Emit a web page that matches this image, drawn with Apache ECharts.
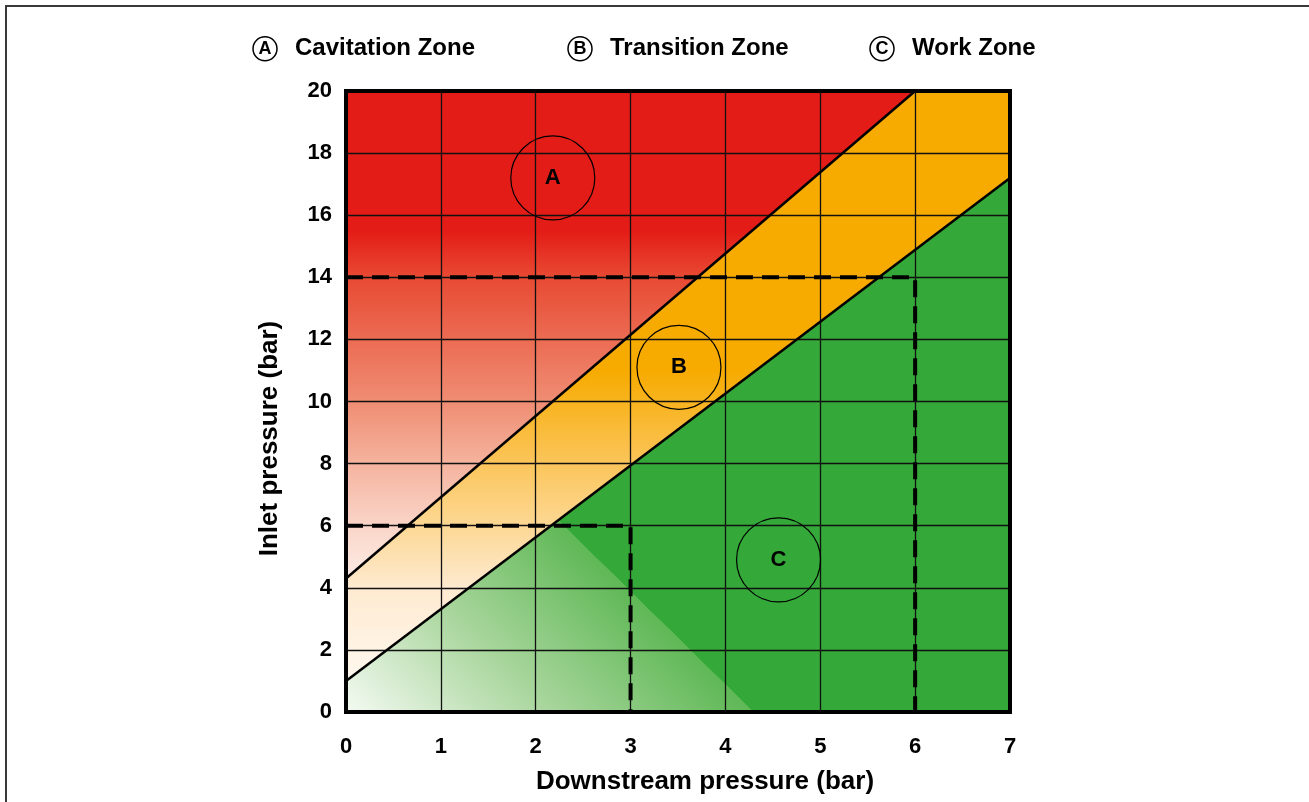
<!DOCTYPE html>
<html>
<head>
<meta charset="utf-8">
<script src="https://cdn.jsdelivr.net/npm/echarts@6/dist/echarts.min.js"></script>
<style>
  html, body { margin: 0; padding: 0; background: #fff; }
  #chart { width: 1309px; height: 802px; }
</style>
</head>
<body>
<div id="chart"></div>
<script>
// zones (polygons in data units: downstream bar, inlet bar)
const zoneNames = ['Cavitation Zone', 'Transition Zone', 'Work Zone'];
const zoneLetters = ['A', 'B', 'C'];
const cavitationZone = [[0, 4.3], [6, 20], [0, 20]];
const transitionZone = [[0, 1], [0, 4.3], [6, 20], [7, 20], [7, 17.2]];
const workZone = [[0, 0], [0, 1], [7, 17.2], [7, 0]];

// boundary lines between zones
const upperBoundary = [[0, 4.3], [6, 20]];
const lowerBoundary = [[0, 1], [7, 17.2]];

// dashed operating limits
const highLimit = [[0, 14], [6, 14], [6, 0]];
const lowLimit = [[0, 6], [3, 6], [3, 0]];

// circled zone markers
const zoneMarkers = [[2.18, 17.2, 'A'], [3.51, 11.1, 'B'], [4.56, 4.9, 'C']];

const FONT = '"Liberation Sans", Arial, Helvetica, sans-serif';

const chart = echarts.init(document.getElementById('chart'));

// vertical fades, stops given as [inlet bar, colour]
const redStops = [[15.5, '#e41c17'], [14, '#e84a33'], [10, '#ef8d73'], [8, '#f5b39e'], [6, '#fad5c8'], [4, '#fdf0eb'], [3, '#fff8f6']];
const orangeStops = [[11, '#f7ab00'], [10, '#f8b31e'], [8, '#fbc55b'], [6, '#fdd894'], [4, '#feead0'], [1, '#fff8ef'], [0, '#fffcf8']];

function verticalFade(stops) {
    return api => {
        const top = stops[0][0], bot = stops[stops.length - 1][0];
        const a = api.coord([0, top]);
        const b = api.coord([0, bot]);
        return new echarts.graphic.LinearGradient(a[0], a[1], b[0], b[1],
            stops.map(s => ({ offset: (top - s[0]) / (top - bot), color: s[1] })), true);
    };
}

// green fades diagonally from the origin up to the line (2.3,6)-(4.3,0)
function greenFade(api) {
    const p0 = api.coord([0, 0]);
    const a = api.coord([2.3, 6]);
    const b = api.coord([4.3, 0]);
    const dx = b[0] - a[0], dy = b[1] - a[1];
    const len = Math.sqrt(dx * dx + dy * dy);
    const nx = dy / len, ny = -dx / len;
    const dist = (b[0] - p0[0]) * nx + (b[1] - p0[1]) * ny;
    return new echarts.graphic.LinearGradient(p0[0], p0[1], p0[0] + nx * dist, p0[1] + ny * dist, [
        { offset: 0, color: '#f4faf2' },
        { offset: 0.5, color: '#a9d69d' },
        { offset: 0.999, color: '#5fb856' },
        { offset: 1, color: '#34a838' }
    ], true);
}

function zoneSeries(name, verts, fillFn) {
    return {
        type: 'custom',
        name: name,
        z: 1,
        silent: true,
        data: verts,
        encode: { x: 0, y: 1 },
        renderItem: (params, api) => {
            if (params.dataIndex !== 0) return;
            const pts = verts.map(v => api.coord(v));
            return { type: 'polygon', shape: { points: pts }, style: { fill: fillFn(api) } };
        }
    };
}

function lineSeries(data, style, z) {
    return {
        type: 'line',
        data: data,
        symbol: 'none',
        silent: true,
        z: z,
        lineStyle: style
    };
}

const legendLeft = [243, 558, 860];

const option = {
    animation: false,
    textStyle: { fontFamily: FONT },
    graphic: [{
        type: 'rect',
        silent: true,
        z: -10,
        shape: { x: 6, y: 6, width: 1400, height: 900 },
        style: { fill: 'none', stroke: '#3a3a3a', lineWidth: 2 }
    }],
    legend: zoneNames.map((n, i) => ({
        data: [n],
        left: legendLeft[i],
        top: 31,
        icon: 'rect',
        itemWidth: 0,
        itemHeight: 0,
        selectedMode: false,
        formatter: name => '{c|' + zoneLetters[i] + '}{t|' + name + '}',
        textStyle: {
            color: '#000',
            rich: {
                c: {
                    width: 24, height: 24, lineHeight: 24, align: 'center',
                    borderColor: '#000', borderWidth: 1.5, borderRadius: 13,
                    fontSize: 18, fontWeight: 'bold', color: '#000', fontFamily: FONT
                },
                t: {
                    fontSize: 24, fontWeight: 'bold', color: '#000', fontFamily: FONT,
                    padding: [0, 0, 0, 18]
                }
            }
        }
    })),
    grid: {
        left: 346, top: 91, right: 299, bottom: 90,
        show: true, z: 8,
        borderColor: '#000', borderWidth: 4,
        backgroundColor: 'transparent'
    },
    xAxis: {
        type: 'value',
        min: 0, max: 7, interval: 1,
        z: 3,
        name: 'Downstream pressure (bar)',
        nameLocation: 'middle',
        nameGap: 57,
        nameTextStyle: { fontSize: 26, fontWeight: 'bold', color: '#000', fontFamily: FONT, padding: [0, 0, 0, 54] },
        axisLine: { show: false },
        axisTick: { show: false },
        axisLabel: { margin: 24, fontSize: 22, fontWeight: 'bold', color: '#000', fontFamily: FONT },
        splitLine: { show: true, lineStyle: { color: '#111', width: 1.3 } }
    },
    yAxis: {
        type: 'value',
        min: 0, max: 20, interval: 2,
        z: 3,
        name: 'Inlet pressure (bar)',
        nameLocation: 'middle',
        nameGap: 63,
        nameTextStyle: { fontSize: 26, fontWeight: 'bold', color: '#000', fontFamily: FONT, padding: [0, 74, 0, 0] },
        axisLine: { show: false },
        axisTick: { show: false },
        axisLabel: { margin: 14, fontSize: 22, fontWeight: 'bold', color: '#000', fontFamily: FONT },
        splitLine: { show: true, lineStyle: { color: '#111', width: 1.3 } }
    },
    series: [
        zoneSeries(zoneNames[0], cavitationZone, verticalFade(redStops)),
        zoneSeries(zoneNames[1], transitionZone, verticalFade(orangeStops)),
        zoneSeries(zoneNames[2], workZone, greenFade),
        lineSeries(upperBoundary, { color: '#000', width: 2.5 }, 5),
        lineSeries(lowerBoundary, { color: '#000', width: 2.5 }, 5),
        lineSeries(highLimit, { color: '#000', width: 4, type: [17, 9] }, 6),
        lineSeries(lowLimit, { color: '#000', width: 4, type: [17, 9] }, 6),
        {
            type: 'scatter',
            data: zoneMarkers,
            symbolSize: 84,
            silent: true,
            z: 7,
            itemStyle: { color: 'rgba(0,0,0,0)', borderColor: '#000', borderWidth: 1.2, opacity: 1 },
            label: {
                show: true,
                position: 'inside',
                formatter: p => p.value[2],
                fontSize: 22, fontWeight: 'bold', color: '#000', opacity: 1, fontFamily: FONT
            }
        }
    ]
};

chart.setOption(option);
</script>
</body>
</html>
